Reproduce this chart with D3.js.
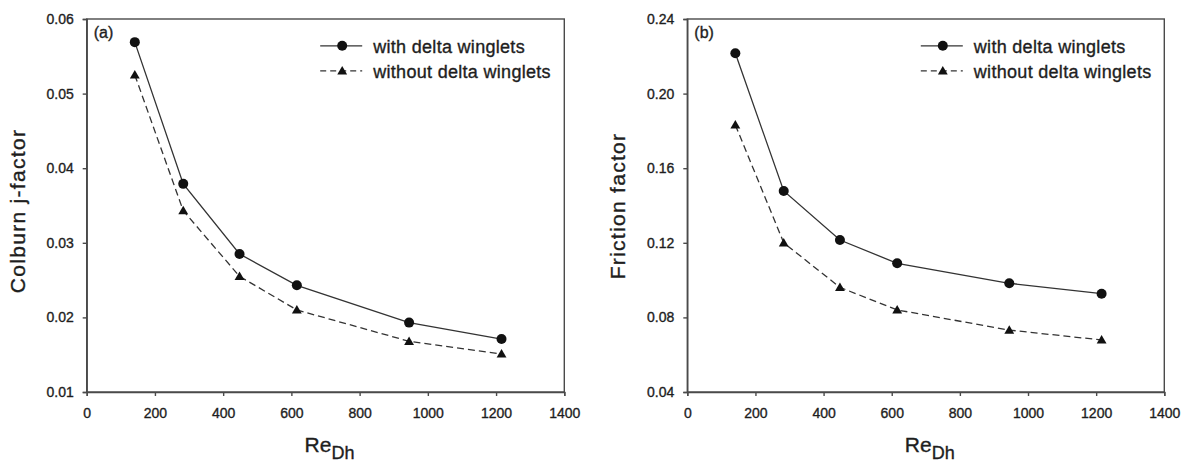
<!DOCTYPE html>
<html>
<head>
<meta charset="utf-8">
<script src="https://cdn.jsdelivr.net/npm/d3@7"></script>
<style>
  html, body { margin: 0; padding: 0; background: #fff; }
  svg { display: block; font-family: "Liberation Sans", Arial, Helvetica, sans-serif; }
  svg text { stroke: #1e1e1e; stroke-width: 0.35px; }
</style>
</head>
<body>
<svg id="chart" width="1190" height="462"></svg>
<script>
// Reynolds numbers (hydraulic diameter) shared by both panels
const reDh = [141, 283, 448, 616, 945, 1216];

// (a) Colburn j-factor
const jWith = [0.0569, 0.0379, 0.0285, 0.0243, 0.0193, 0.0171];
const jWithout = [0.0525, 0.0343, 0.0255, 0.0210, 0.0168, 0.0151];

// (b) Friction factor
const fWith = [0.2216, 0.1478, 0.1215, 0.1090, 0.0983, 0.0927];
const fWithout = [0.1832, 0.1200, 0.0961, 0.0840, 0.0732, 0.0679];

const seriesNames = ["with delta winglets", "without delta winglets"];
const panelLabels = ["(a)", "(b)"];
const yTitles = ["Colburn j-factor", "Friction factor"];

const xTicks = [0, 200, 400, 600, 800, 1000, 1200, 1400];
const jTicks = [0.01, 0.02, 0.03, 0.04, 0.05, 0.06];
const jTickLabels = ["0.01", "0.02", "0.03", "0.04", "0.05", "0.06"];
const fTicks = [0.04, 0.08, 0.12, 0.16, 0.20, 0.24];
const fTickLabels = ["0.04", "0.08", "0.12", "0.16", "0.20", "0.24"];

const svg = d3.select("#chart");
const ink = "#1e1e1e";
const frameColor = "#4a4a4a";

function drawPanel(opts) {
  const { left, top, width, height, yDomain, yTicks, yTickLabels,
          withVals, withoutVals, label, yTitle, yTitleCenter } = opts;

  const g = svg.append("g").attr("transform", `translate(${left},${top})`);
  const x = d3.scaleLinear().domain([0, 1400]).range([0, width]);
  const y = d3.scaleLinear().domain(yDomain).range([height, 0]);

  // plot frame
  g.append("rect")
    .attr("width", width).attr("height", height)
    .attr("fill", "none").attr("stroke", frameColor).attr("stroke-width", 1.4);

  // axes
  const xAxis = g.append("g")
    .attr("transform", `translate(0,${height})`)
    .call(d3.axisBottom(x).tickValues(xTicks).tickSize(4).tickPadding(12)
      .tickFormat(d3.format("d")));
  const yAxis = g.append("g")
    .call(d3.axisLeft(y).tickValues(yTicks).tickSize(4).tickPadding(9)
      .tickFormat((d, i) => yTickLabels[i]));
  [xAxis, yAxis].forEach(ax => {
    ax.select(".domain").attr("stroke", frameColor).attr("stroke-width", 1.4);
    ax.selectAll(".tick line").attr("stroke", frameColor).attr("stroke-width", 1.4);
    ax.selectAll(".tick text")
      .attr("fill", ink)
      .style("font-size", "14px")
      .style("font-family", "'Liberation Sans', Arial, sans-serif");
  });

  // series lines
  const line = d3.line().x((d, i) => x(reDh[i])).y(d => y(d));
  g.append("path").datum(withVals)
    .attr("d", line).attr("fill", "none")
    .attr("stroke", "#333").attr("stroke-width", 1.3);
  g.append("path").datum(withoutVals)
    .attr("d", line).attr("fill", "none")
    .attr("stroke", "#333").attr("stroke-width", 1.3)
    .attr("stroke-dasharray", "7,4");

  // markers
  g.selectAll("circle.pt").data(withVals).join("circle")
    .attr("class", "pt")
    .attr("cx", (d, i) => x(reDh[i])).attr("cy", d => y(d))
    .attr("r", 5).attr("fill", "#111");
  const tri = d3.symbol().type(d3.symbolTriangle).size(42);
  g.selectAll("path.tri").data(withoutVals).join("path")
    .attr("class", "tri")
    .attr("transform", (d, i) => `translate(${x(reDh[i])},${y(d) + 0.8})`)
    .attr("d", tri).attr("fill", "#111");

  // panel label
  g.append("text")
    .attr("x", 7).attr("y", 19)
    .attr("fill", ink).style("font-size", "16px")
    .text(label);

  // legend
  const lg = g.append("g").attr("transform", `translate(286.5,0)`);
  const rows = [26.8, 51.8];
  rows.forEach((ry, i) => {
    lg.append("line")
      .attr("x1", -53).attr("x2", -11).attr("y1", ry).attr("y2", ry)
      .attr("stroke", "#333").attr("stroke-width", 1.3)
      .attr("stroke-dasharray", i === 1 ? "6,4" : null);
    if (i === 0) {
      lg.append("circle").attr("cx", -31).attr("cy", ry).attr("r", 5).attr("fill", "#111");
    } else {
      lg.append("path").attr("transform", `translate(-31,${ry + 0.8})`)
        .attr("d", tri).attr("fill", "#111");
    }
    lg.append("text")
      .attr("x", 0).attr("y", ry + 7.3)
      .attr("fill", ink)
      .style("font-size", "18px")
      .style("letter-spacing", "0.3px")
      .text(seriesNames[i]);
  });

  // y-axis title
  svg.append("text")
    .attr("transform", `translate(${left - 62},${top + yTitleCenter}) rotate(-90)`)
    .attr("text-anchor", "middle")
    .attr("fill", ink)
    .style("font-size", "21px")
    .style("letter-spacing", "1.3px")
    .text(yTitle);

  // x-axis title: Re with subscript Dh
  const xt = svg.append("text")
    .attr("x", left + width / 2 + 4).attr("y", top + height + 60)
    .attr("text-anchor", "middle")
    .attr("fill", ink)
    .style("font-size", "21px");
  xt.append("tspan").text("Re");
  xt.append("tspan").attr("dy", 7).style("font-size", "18px").text("Dh");
}

drawPanel({
  left: 86.7, top: 19, width: 477.6, height: 373,
  yDomain: [0.01, 0.06], yTicks: jTicks, yTickLabels: jTickLabels,
  withVals: jWith, withoutVals: jWithout,
  label: panelLabels[0], yTitle: yTitles[0], yTitleCenter: 192
});

drawPanel({
  left: 687.3, top: 19, width: 477, height: 373,
  yDomain: [0.04, 0.24], yTicks: fTicks, yTickLabels: fTickLabels,
  withVals: fWith, withoutVals: fWithout,
  label: panelLabels[1], yTitle: yTitles[1], yTitleCenter: 187
});
</script>
</body>
</html>
